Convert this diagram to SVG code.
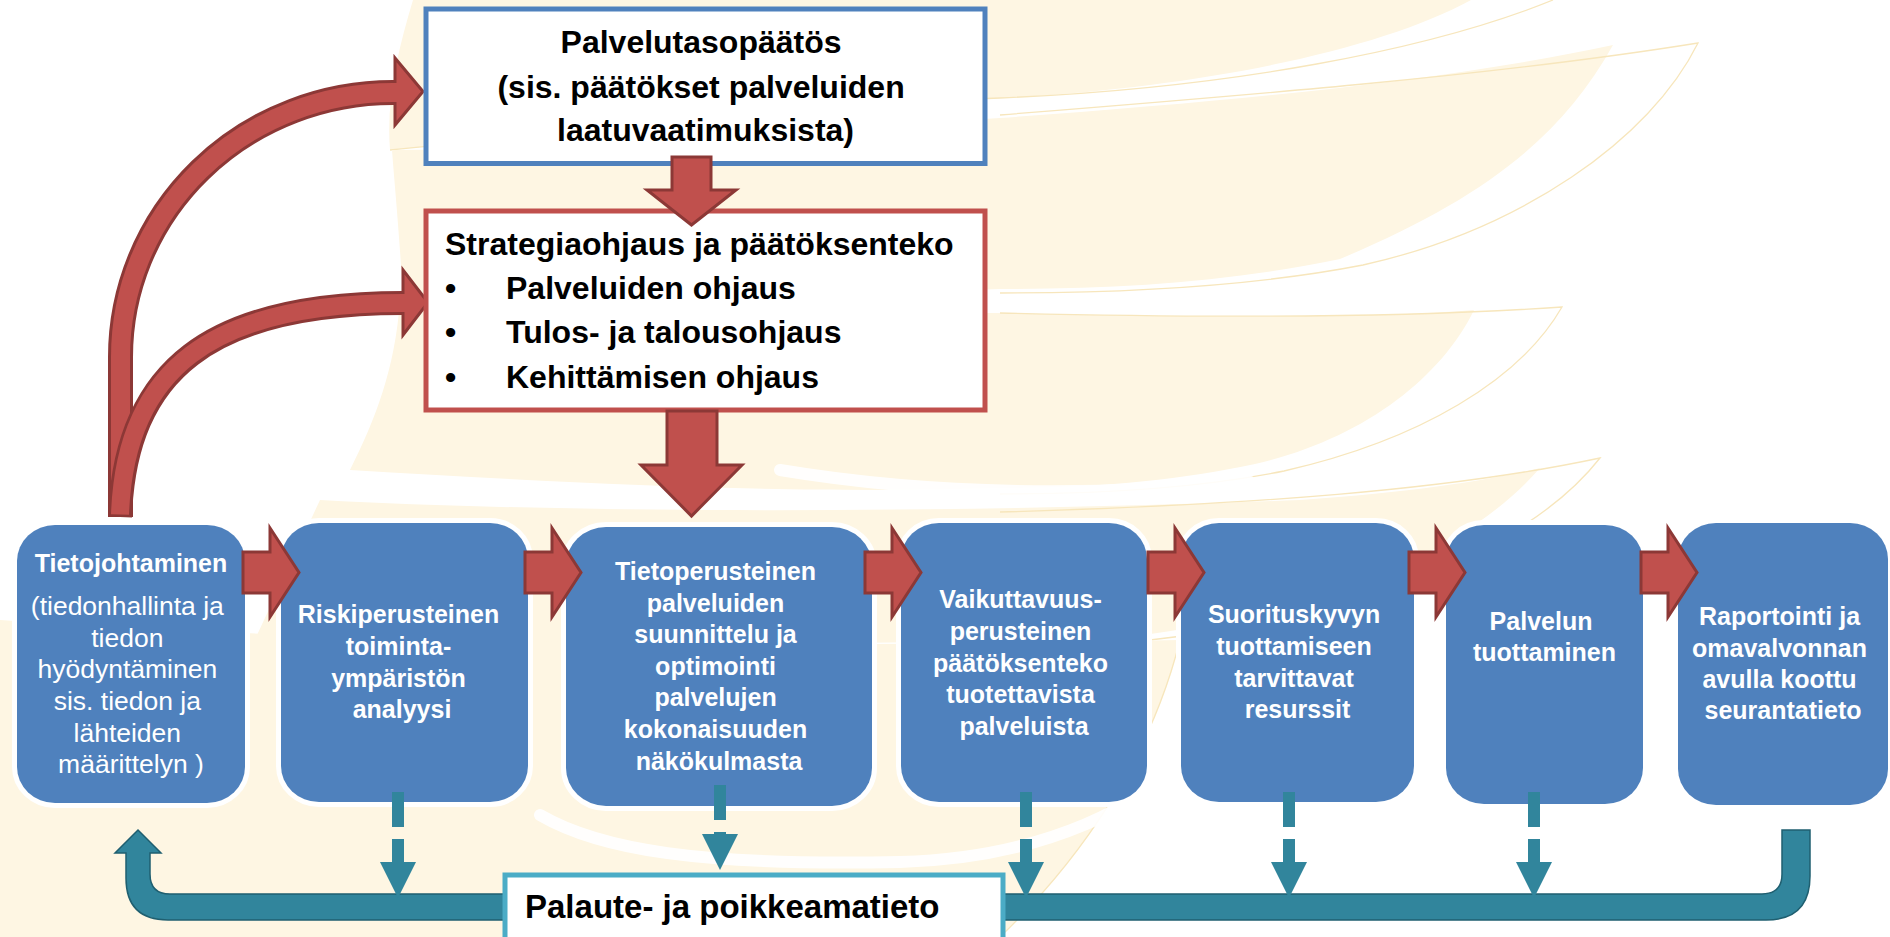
<svg xmlns="http://www.w3.org/2000/svg" xmlns:xlink="http://www.w3.org/1999/xlink" width="1890" height="937" viewBox="0 0 1890 937">
<style>
.bg { fill:#FEF6E3; stroke:none; }
.bgline { fill:none; stroke:#F7E6BC; stroke-width:1.3; }
.swoosh { fill:none; stroke:#FFFFFF; stroke-linecap:round; opacity:0.9; }
.topbox { fill:#FFFFFF; stroke-width:5; }
.t { font-family:"Liberation Sans", Arial, sans-serif; font-weight:bold; }
.boxtxt { font-size:32px; fill:#000000; }
.node { fill:#4F81BD; stroke:#FFFFFF; stroke-width:10; paint-order:stroke; }
.ntxt { font-size:25px; fill:#FFFFFF; text-anchor:middle; }
.ntxtr { font-size:26.5px; font-weight:normal; }
.redarrow { fill:#C0504D; stroke:#8C3836; stroke-width:3; stroke-linejoin:miter; }
.shaftDark { fill:none; stroke:#8C3836; }
.shaftLight { fill:none; stroke:#C0504D; }
.dash { stroke:#31859C; stroke-width:12; stroke-dasharray:35 12; fill:none; marker-end:url(#tealHead); }
.ubar { fill:#31859C; stroke:#1F5F70; stroke-width:1.5; }
</style>
<defs>
<path id="hArrow" d="M0,0 H27 V-24 L56,20.5 L27,65 V41 H0 Z"/>
<marker id="tealHead" markerUnits="userSpaceOnUse" markerWidth="40" markerHeight="40" viewBox="0 -20 40 40" refX="0" refY="0" orient="auto">
<path d="M0,-18 L36,0 L0,18 Z" fill="#31859C"/>
</marker>
</defs>
<rect width="1890" height="937" fill="#FFFFFF"/>
<g id="background">
<!-- leaf A -->
<path class="bg" d="M413,0 H1471 C1380,50 1200,88 1000,98 C800,106 600,130 390,150 C386,100 398,50 413,0 Z"/>
<path class="bgline" d="M1553,0 C1430,50 1230,88 1000,98 C800,106 600,130 390,150"/>
<!-- leaf B -->
<path class="bg" d="M392,150 C600,150 800,130 1000,118 C1250,100 1450,80 1613,45 C1560,140 1480,200 1340,259 C1230,282 1120,289 1000,289 C800,296 600,302 403,300 C400,240 395,190 392,150 Z"/>
<path class="bgline" d="M1000,115 C1250,95 1500,75 1698,43 C1650,140 1520,230 1363,265 C1250,287 1120,293 1000,293"/>
<!-- leaf C -->
<path class="bg" d="M400,300 C600,318 800,313 1000,313 C1200,318 1380,318 1474,310 C1440,380 1360,440 1255,464 C1180,480 1100,488 1000,488 C800,494 600,485 350,470 C375,420 395,370 400,300 Z"/>
<path class="bgline" d="M1000,313 C1200,318 1400,318 1562,307 C1520,380 1420,440 1284,471 C1200,488 1100,494 1000,494"/>
<!-- leaf D and lower area -->
<path class="bg" d="M320,500 C600,515 1000,512 1300,500 C1420,492 1500,478 1540,468 C1460,560 1300,620 1100,640 L250,650 Z"/>
<path class="bgline" d="M1000,512 C1250,505 1450,490 1600,458 C1520,560 1330,620 1150,640"/>
<path class="bg" d="M0,620 C300,640 700,650 1180,640 C1150,760 1080,860 1000,937 H0 Z"/>
<path class="bgline" d="M1180,640 C1150,760 1080,860 1000,937"/>
<path class="swoosh" stroke-width="12" d="M780,470 C900,490 1050,500 1250,482"/>
<path class="swoosh" stroke-width="12" d="M540,815 C600,850 700,866 900,862 C1050,858 1150,800 1180,760"/>
</g>
<g id="connectors">
<!-- curved arrow to Palvelutasopaatos -->
<path class="shaftDark" stroke-width="25" d="M120.5,517 V357 A272.5,264.5 0 0 1 393,92.5 H396"/>
<polygon class="redarrow" points="395,58 423,91.5 395,125"/>
<path class="shaftLight" stroke-width="19" d="M120.5,514.5 V357 A272.5,264.5 0 0 1 393,92.5 H398"/>
<!-- curved arrow to Strategiaohjaus -->
<path class="shaftDark" stroke-width="24" d="M120,517 C125,370 210,303 403,303 H405"/>
<polygon class="redarrow" points="403,270 428,302.5 403,335"/>
<path class="shaftLight" stroke-width="18" d="M120,514.5 C125,370 210,303 403,303 H406"/>
</g>
<g id="node-palvelutaso">
<rect class="topbox" x="426" y="9" width="559" height="154.5" stroke="#4F81BD"/>
<text class="t boxtxt" text-anchor="middle">
<tspan x="705.5" y="53">Palvelutasopäätös</tspan>
<tspan x="705.5" y="98">(sis. päätökset palveluiden</tspan>
<tspan x="705.5" y="141">laatuvaatimuksista)</tspan>
</text>
</g>
<g id="node-strategia">
<rect class="topbox" x="426" y="211" width="559" height="199" stroke="#C0504D"/>
<text class="t boxtxt" x="445" y="255">Strategiaohjaus ja päätöksenteko</text>
<text class="t boxtxt"><tspan x="445" y="298.5">•</tspan><tspan x="445" y="343">•</tspan><tspan x="445" y="388">•</tspan></text>
<text class="t boxtxt"><tspan x="506" y="298.5">Palveluiden ohjaus</tspan><tspan x="506" y="343">Tulos- ja talousohjaus</tspan><tspan x="506" y="388">Kehittämisen ohjaus</tspan></text>
</g>
<g id="connectors-down">
<polygon class="redarrow" points="672,157 711,157 711,190 736,190 691.5,225 647,190 672,190"/>
<polygon class="redarrow" points="667,411 717,411 717,465 742,465 691.5,516 641,465 667,465"/>
</g>
<g id="node-tietojohtaminen">
<rect class="node" x="17" y="525" width="228" height="278" rx="38" ry="36"/>
<text class="t ntxt"><tspan x="131" y="572">Tietojohtaminen</tspan></text>
<text class="t ntxt ntxtr">
<tspan x="131" y="615">(tiedonhallinta ja</tspan>
<tspan x="131" y="647">tiedon</tspan>
<tspan x="131" y="678">hyödyntäminen</tspan>
<tspan x="131" y="710">sis. tiedon ja</tspan>
<tspan x="131" y="742">lähteiden</tspan>
<tspan x="131" y="773">määrittelyn )</tspan>
</text>
</g>
<g id="node-riski">
<rect class="node" x="281" y="523" width="247" height="279" rx="38" ry="36"/>
<text class="t ntxt">
<tspan x="402" y="623">Riskiperusteinen</tspan>
<tspan x="402" y="655">toiminta-</tspan>
<tspan x="402" y="687">ympäristön</tspan>
<tspan x="402" y="718">analyysi</tspan>
</text>
</g>
<g id="node-tietoperusteinen">
<rect class="node" x="566" y="527" width="306" height="279" rx="40" ry="38"/>
<text class="t ntxt">
<tspan x="719" y="580">Tietoperusteinen</tspan>
<tspan x="719" y="612">palveluiden</tspan>
<tspan x="719" y="643">suunnittelu ja</tspan>
<tspan x="719" y="675">optimointi</tspan>
<tspan x="719" y="706">palvelujen</tspan>
<tspan x="719" y="738">kokonaisuuden</tspan>
<tspan x="719" y="770">näkökulmasta</tspan>
</text>
</g>
<g id="node-vaikuttavuus">
<rect class="node" x="901" y="523" width="246" height="279" rx="38" ry="36"/>
<text class="t ntxt">
<tspan x="1024" y="608">Vaikuttavuus-</tspan>
<tspan x="1024" y="640">perusteinen</tspan>
<tspan x="1024" y="672">päätöksenteko</tspan>
<tspan x="1024" y="703">tuotettavista</tspan>
<tspan x="1024" y="735">palveluista</tspan>
</text>
</g>
<g id="node-suorituskyky">
<rect class="node" x="1181" y="523" width="233" height="279" rx="38" ry="36"/>
<text class="t ntxt">
<tspan x="1297.5" y="623">Suorituskyvyn</tspan>
<tspan x="1297.5" y="655">tuottamiseen</tspan>
<tspan x="1297.5" y="687">tarvittavat</tspan>
<tspan x="1297.5" y="718">resurssit</tspan>
</text>
</g>
<g id="node-palvelun">
<rect class="node" x="1446" y="525" width="197" height="279" rx="38" ry="36"/>
<text class="t ntxt">
<tspan x="1544.5" y="630">Palvelun</tspan>
<tspan x="1544.5" y="661">tuottaminen</tspan>
</text>
</g>
<g id="node-raportointi">
<rect class="node" x="1678" y="523" width="210" height="282" rx="38" ry="36"/>
<text class="t ntxt">
<tspan x="1783" y="625">Raportointi ja</tspan>
<tspan x="1783" y="657">omavalvonnan</tspan>
<tspan x="1783" y="688">avulla koottu</tspan>
<tspan x="1783" y="719">seurantatieto</tspan>
</text>
</g>
<g id="connectors-flow">
<use xlink:href="#hArrow" x="243" y="552" class="redarrow"/>
<use xlink:href="#hArrow" x="525" y="552" class="redarrow"/>
<use xlink:href="#hArrow" x="865" y="552" class="redarrow"/>
<use xlink:href="#hArrow" x="1148" y="552" class="redarrow"/>
<use xlink:href="#hArrow" x="1409" y="552" class="redarrow"/>
<use xlink:href="#hArrow" x="1641" y="552" class="redarrow"/>
</g>
<g id="connectors-feedback">
<path class="ubar" d="M1782,830 H1810 V876 Q1810,920 1766,920 H168 Q126,920 126,878 V853 H115 L138,830 L161,853 H150 V874 Q150,894 170,894 H1762 Q1782,894 1782,874 Z"/>
<line class="dash" x1="398" y1="792" x2="398" y2="862"/>
<line class="dash" x1="720" y1="785" x2="720" y2="834"/>
<line class="dash" x1="1026" y1="792" x2="1026" y2="862"/>
<line class="dash" x1="1289" y1="792" x2="1289" y2="862"/>
<line class="dash" x1="1534" y1="792" x2="1534" y2="862"/>
</g>
<g id="node-palaute">
<rect x="505" y="875" width="498" height="90" fill="#FFFFFF" stroke="#4BACC6" stroke-width="5"/>
<text class="t" x="525" y="918" font-size="33" fill="#000000">Palaute- ja poikkeamatieto</text>
</g>
</svg>
